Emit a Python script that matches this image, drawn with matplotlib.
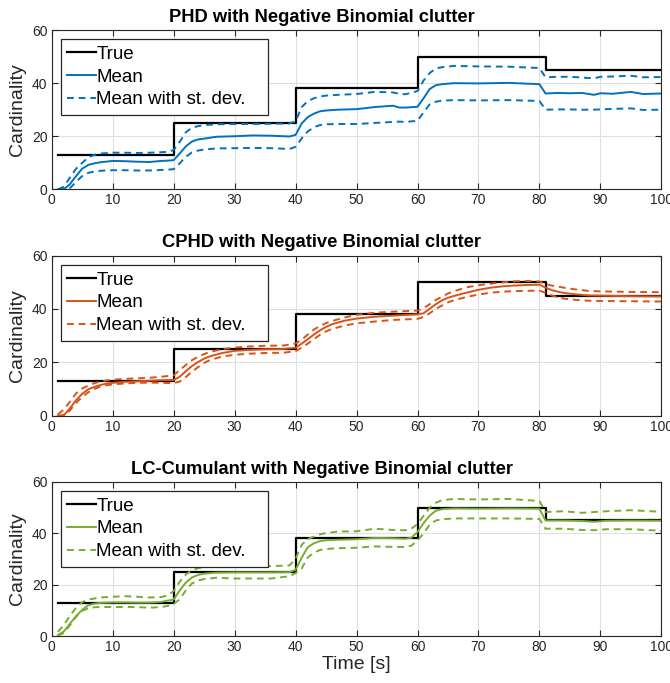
import numpy as np
import matplotlib
matplotlib.use("Agg")
import matplotlib.pyplot as plt

plt.rcParams['font.family'] = ['Liberation Sans', 'DejaVu Sans']

# ground truth (step function)
t_true = [1, 20, 20, 40, 40, 60, 60, 81, 81, 100]
n_true = [13, 13, 25, 25, 38, 38, 50, 50, 45, 45]

# PHD
t_phd = [1, 2, 3, 4, 5, 6, 7, 8, 10, 12, 14, 16, 18, 19, 20, 21, 22, 23, 24, 25, 27, 30, 33, 36, 39,
         40, 41, 42, 43, 44, 45, 47, 50, 53, 56, 57, 58, 60, 61, 62, 63, 64, 66, 70, 75, 80,
         81, 83, 85, 87, 89, 90, 92, 95, 97, 100]
phd_mean = [0, 0, 2, 5, 7.8, 9.2, 9.8, 10.2, 10.7, 10.6, 10.4, 10.3, 10.7, 10.8, 11, 13.5, 16.2, 18, 18.8, 19.1,
            19.8, 20, 20.3, 20.2, 19.9, 20.5, 24.8, 27.2, 28.5, 29.4, 29.7, 30, 30.2, 31, 31.5, 30.8, 30.8,
            31.1, 34.3, 37.8, 39.2, 39.6, 40, 39.9, 40.1, 39.6, 36.1, 36.3, 36.2, 36.3, 35.6, 36.2, 36,
            36.7, 35.9, 36.1]
phd_up = [0, 1, 4.5, 7.8, 10, 12, 13, 13.5, 13.8, 13.8, 13.7, 13.8, 14, 14.1, 14.8, 17.9, 21.5, 23.2, 23.8, 24.2,
          24.5, 24.6, 24.6, 24.7, 24.8, 25.6, 31, 33.2, 34.3, 35, 35.3, 35.6, 35.9, 36.7, 36.5, 36, 35.8,
          37, 41, 43.8, 45.5, 46, 46.5, 46.3, 46.2, 45.7, 42.2, 42.4, 42.4, 42.1, 41.8, 42.4, 42.5,
          42.8, 42.2, 42.3]
phd_lo = [0, 0, 0.5, 2.8, 5, 6.2, 6.7, 7, 7.2, 7.2, 7.1, 7.1, 7.3, 7.4, 7.6, 9.8, 12.3, 13.9, 14.6, 15,
          15.4, 15.5, 15.6, 15.5, 15.2, 16, 19.2, 21.8, 23.4, 24.2, 24.5, 24.6, 24.6, 25, 25.4, 25.5, 25.4,
          25.8, 29, 32, 33, 33.4, 33.6, 33.5, 33.6, 33.3, 30, 30.1, 30.1, 30, 30, 30.1, 30.3,
          30.5, 29.9, 30]

# CPHD
t_cphd = [1, 2, 3, 4, 5, 6, 7, 8, 9, 10, 12, 14, 16, 18, 20, 21, 22, 23, 24, 25, 26, 28, 30, 32, 35, 38,
          40, 41, 42, 43, 44, 45, 46, 48, 50, 53, 56, 60, 61, 62, 63, 64, 65, 66, 68, 70, 72, 74, 76, 78,
          80, 81, 82, 83, 84, 86, 88, 90, 95, 100]
cphd_mean = [0, 0.2, 2.8, 5.8, 8.2, 9.9, 10.8, 11.5, 12, 12.3, 12.7, 12.9, 13.1, 13.3, 13.4, 14.6, 16.7, 18.6,
             20.1, 21.4, 22.3, 23.5, 24.3, 24.6, 24.9, 25, 25.5, 27, 28.7, 30.4, 32, 33.3, 34.3, 35.6, 36.4,
             37.1, 37.5, 38, 38.4, 40.1, 41.8, 43.2, 44.2, 44.9, 46.1, 47.2, 48, 48.5, 48.8, 49, 49.1,
             48, 47.1, 46.5, 46, 45.5, 45.1, 45, 44.8, 44.7]
cphd_up = [0.5, 2.3, 5.3, 8.4, 10.2, 11.3, 12.2, 12.8, 13.2, 13.5, 13.8, 14, 14.2, 14.6, 15.1, 17.1, 19, 20.8,
           22.1, 23.1, 23.9, 25, 25.5, 25.9, 26.2, 26.3, 27, 28.5, 30.4, 32.3, 33.6, 34.7, 35.5, 36.8, 37.8,
           38.6, 39, 39.4, 40.3, 41.8, 43.4, 44.6, 45.8, 46.7, 48.1, 48.9, 49.5, 50, 50.4, 50.5, 50.3,
           49.3, 48.8, 48.4, 48, 47.3, 46.8, 46.6, 46.4, 46.3]
cphd_lo = [0, 0, 2, 4.8, 7, 8.8, 10, 10.9, 11.4, 11.7, 12.1, 12.3, 12.4, 12.3, 12.2, 12.8, 14.5, 16.5,
           18.2, 19.8, 20.9, 22.2, 22.8, 23.2, 23.5, 23.6, 24.2, 25.5, 27, 28.7, 30.3, 31.6, 32.5, 33.8, 34.6,
           35.3, 35.9, 36.3, 37, 38.4, 40, 41.3, 42.5, 43.3, 44.5, 45.4, 46.1, 46.5, 46.7, 46.8, 46.9,
           46, 45.1, 44.4, 43.9, 43.4, 43.1, 43, 42.9, 42.8]

# LC-Cumulant
t_lc = [1, 2, 3, 4, 5, 6, 7, 8, 10, 12, 14, 16, 18, 19, 20, 21, 22, 23, 24, 25, 27, 30, 33, 36, 39,
        40, 41, 42, 43, 44, 45, 47, 50, 53, 56, 58, 59, 60, 61, 62, 63, 64, 66, 70, 75, 80,
        81, 84, 87, 89, 91, 95, 100]
lc_mean = [0.3, 1.8, 4.8, 7.8, 10.2, 12, 12.6, 12.9, 13.1, 13.1, 13, 13, 13.3, 13.8, 14.2, 17.8, 20.8, 22.8,
           23.8, 24.3, 24.7, 24.8, 24.8, 24.8, 24.9, 25.8, 30.5, 34.6, 36.1, 37, 37.3, 37.5, 37.7, 38.2, 38.1,
           37.9, 38.3, 40.5, 44, 46.9, 48.8, 49.4, 49.7, 49.6, 49.7, 49.6, 45, 45, 44.8, 44.5, 44.9, 45, 44.9]
lc_up = [1.6, 4.3, 8, 11, 13.2, 14.2, 14.6, 15, 15.3, 15.5, 15.3, 15, 15.2, 15.8, 17.5, 21.2, 24, 25.6,
         26.4, 26.9, 27.3, 27.6, 27.6, 27.2, 27.5, 30, 35.5, 37.8, 38.7, 39.6, 40.1, 40.7, 40.8, 41.8, 41.3,
         41.2, 41.8, 43.6, 46.8, 50, 51.9, 52.9, 53.4, 53.2, 53.4, 52.6, 48.3, 48.6, 48, 48.3, 48.6, 49, 48.4]
lc_lo = [0, 1.2, 4.2, 7.5, 9.8, 10.8, 11.2, 11.3, 11.3, 11.3, 11.3, 11, 11.3, 11.7, 12.5, 14.3, 17.8, 20.5,
         21.6, 22.2, 22.7, 22.4, 22.4, 22.4, 23.3, 24.5, 26.3, 30.6, 32.5, 33.5, 33.9, 34.2, 34.4, 34.9, 34.7,
         34.7, 35.2, 37.2, 40, 43.4, 45, 45.5, 45.8, 45.8, 45.8, 45.6, 41.8, 41.8, 41.3, 41.2, 41.6, 41.6, 41]

panels = [
    ("PHD with Negative Binomial clutter", t_phd, phd_mean, phd_up, phd_lo, (0, 0.447, 0.741)),
    ("CPHD with Negative Binomial clutter", t_cphd, cphd_mean, cphd_up, cphd_lo, (0.85, 0.325, 0.098)),
    ("LC-Cumulant with Negative Binomial clutter", t_lc, lc_mean, lc_up, lc_lo, (0.466, 0.674, 0.188)),
]

# axes rectangles in figure fraction (from pixel positions)
rects = [
    [0.0772, 0.7228, 0.9099, 0.2332],
    [0.0772, 0.3914, 0.9099, 0.2343],
    [0.0772, 0.0688, 0.9099, 0.2255],
]

fig = plt.figure(figsize=(6.7, 6.83), dpi=100)
dark = '#262626'

for i, (title, t, m, up, lo, col) in enumerate(panels):
    ax = fig.add_axes(rects[i])
    ax.plot(t_true, n_true, color='k', lw=1.6, label='True')
    ax.plot(t, m, color=col, lw=1.4, label='Mean')
    # trailing spaces widen the legend box like the MATLAB one
    ax.plot(t, up, color=col, lw=1.4, ls=(0, (3.5, 2.5)), label='Mean with st. dev.   ')
    ax.plot(t, lo, color=col, lw=1.4, ls=(0, (3.5, 2.5)))
    ax.set_xlim(0, 100)
    ax.set_ylim(0, 60)
    ax.set_xticks(np.arange(0, 101, 10))
    ax.set_yticks([0, 20, 40, 60])
    ax.grid(True, color='#e0e0e0', lw=0.8)
    ax.set_axisbelow(True)
    ax.tick_params(direction='in', top=True, right=True, length=4, width=0.8,
                   labelsize=10, colors=dark, pad=3)
    for s in ax.spines.values():
        s.set_color(dark)
        s.set_linewidth(0.8)
    ax.set_title(title, fontsize=13.2, fontweight='bold', pad=6, x=0.443)
    ax.set_ylabel('Cardinality', fontsize=14, color=dark, labelpad=4)
    leg = ax.legend(loc='upper left', bbox_to_anchor=(0.015, 0.942), borderaxespad=0,
                    fontsize=13.5, frameon=True, fancybox=False, handlelength=1.5,
                    handletextpad=0.05, borderpad=0.35, labelspacing=0.3)
    leg.get_frame().set_edgecolor(dark)
    leg.get_frame().set_linewidth(0.9)
    leg.get_frame().set_alpha(1)
    if i == 2:
        ax.set_xlabel('Time [s]', fontsize=14, color=dark, labelpad=1)

fig.savefig('out.png', dpi=100)
